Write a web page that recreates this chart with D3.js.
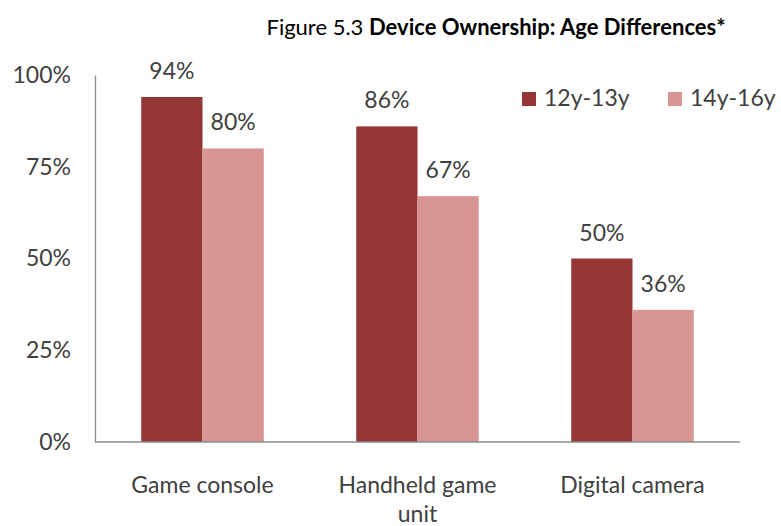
<!DOCTYPE html>
<html>
<head>
<meta charset="utf-8">
<script src="https://cdn.jsdelivr.net/npm/d3@7"></script>
<style>
  html, body { margin: 0; padding: 0; background: #fff; }
  svg { display: block; font-family: Lato, "Open Sans", sans-serif; }
</style>
</head>
<body>
<svg id="chart" width="781" height="526"></svg>
<script>
// Device ownership by age group
const categories = [["Game console"], ["Handheld game", "unit"], ["Digital camera"]];
const seriesNames = ["12y-13y", "14y-16y"];
const values12to13 = [0.94, 0.86, 0.50];
const values14to16 = [0.80, 0.67, 0.36];
const tickValues = [0, 0.25, 0.5, 0.75, 1];

const colors = ["#943634", "#D99594"];
const textColor = "#404040";
const fontSize = 23;

const svg = d3.select("#chart");
const margin = { left: 95, right: 41, top: 75, bottom: 84 };
const W = 781, H = 526;

const x = d3.scaleBand()
  .domain(d3.range(categories.length))
  .range([margin.left, W - margin.right])
  .paddingInner(0.43)
  .paddingOuter(0.215);

const xs = d3.scaleBand()
  .domain(d3.range(seriesNames.length))
  .range([0, x.bandwidth()]);

const y = d3.scaleLinear().domain([0, 1]).range([H - margin.bottom, margin.top]);

// Title
const title = svg.append("text")
  .attr("x", 496).attr("y", 35)
  .attr("text-anchor", "middle")
  .attr("font-size", 22)
  .attr("fill", "#000");
title.append("tspan").text("Figure 5.3 ");
title.append("tspan").attr("font-weight", "bold").text("Device Ownership: Age Differences*");

// Y axis
const yAxis = svg.append("g")
  .attr("transform", `translate(${margin.left},0)`)
  .call(d3.axisLeft(y).tickValues(tickValues).tickSize(0).tickPadding(24)
    .tickFormat(d3.format(".0%")));
yAxis.select(".domain").attr("stroke", "#8c8c8c").attr("stroke-width", 1.3);
yAxis.selectAll("text").attr("font-size", fontSize).attr("fill", textColor)
  .attr("font-family", "Lato, sans-serif");

// Bars with value labels
const series = [values12to13, values14to16];
const groups = svg.append("g").selectAll("g")
  .data(series)
  .join("g")
  .attr("fill", (d, i) => colors[i]);

groups.each(function(vals, si) {
  const g = d3.select(this);
  g.selectAll("rect")
    .data(vals)
    .join("rect")
    .attr("x", (d, ci) => x(ci) + xs(si))
    .attr("y", d => y(d))
    .attr("width", xs.bandwidth())
    .attr("height", d => y(0) - y(d));
  g.selectAll("text")
    .data(vals)
    .join("text")
    .attr("x", (d, ci) => x(ci) + xs(si) + xs.bandwidth() / 2)
    .attr("y", d => y(d) - 18)
    .attr("text-anchor", "middle")
    .attr("font-size", fontSize)
    .attr("fill", textColor)
    .text(d => d3.format(".0%")(d));
});

// X axis
const xAxis = svg.append("g")
  .attr("transform", `translate(0,${y(0)})`);
xAxis.append("line")
  .attr("x1", margin.left).attr("x2", W - margin.right)
  .attr("stroke", "#8c8c8c").attr("stroke-width", 1.3);
xAxis.selectAll("text")
  .data(categories)
  .join("text")
  .attr("x", (d, i) => x(i) + x.bandwidth() / 2)
  .attr("y", 51)
  .attr("text-anchor", "middle")
  .attr("font-size", fontSize)
  .attr("fill", textColor)
  .each(function(lines) {
    const t = d3.select(this);
    lines.forEach((ln, k) => {
      t.append("tspan").attr("x", t.attr("x")).attr("dy", k === 0 ? 0 : 29).text(ln);
    });
  });

// Legend
const legend = svg.append("g");
const legendX = [522, 668];
seriesNames.forEach((name, i) => {
  legend.append("rect")
    .attr("x", legendX[i]).attr("y", 92)
    .attr("width", 14).attr("height", 14)
    .attr("fill", colors[i]);
  legend.append("text")
    .attr("x", legendX[i] + 22).attr("y", 106)
    .attr("font-size", fontSize)
    .attr("fill", textColor)
    .text(name);
});
</script>
</body>
</html>
